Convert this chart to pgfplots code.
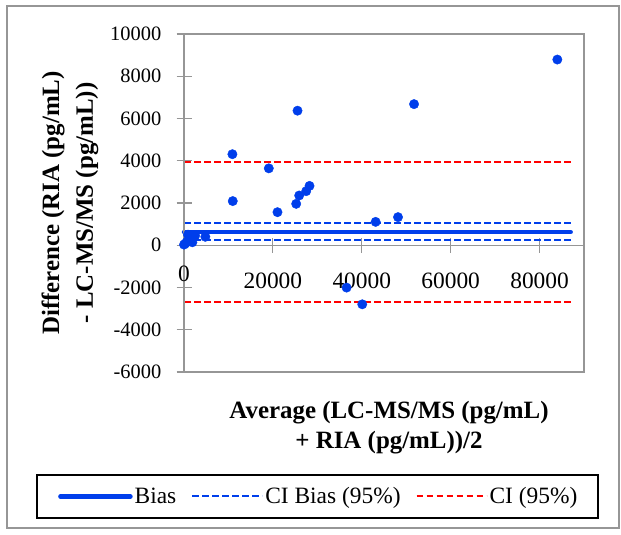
\documentclass[border=0pt]{standalone}
\usepackage{fontspec}
\setmainfont{Liberation Serif}
\usepackage{pgfplots}
\pgfplotsset{compat=1.18}
\definecolor{ptblue}{RGB}{0,62,235}
\definecolor{ptred}{RGB}{255,0,0}
\definecolor{framegray}{RGB}{150,150,150}

\begin{document}
\begin{tikzpicture}[x=1bp,y=1bp]
\path[use as bounding box] (0,0) rectangle (621,535);
\draw[framegray, line width=1.2bp] (7,7) rectangle (619,529);
\begin{axis}[
  at={(184bp,163bp)}, anchor=south west,
  scale only axis, width=400bp, height=338bp,
  xmin=0, xmax=90000, ymin=-6000, ymax=10000,
  axis x line*=middle, axis y line*=left,
  axis line style={framegray, line width=1.2bp},
  xtick={0,20000,40000,60000,80000},
  ytick={-6000,-4000,-2000,0,2000,4000,6000,8000,10000},
  scaled ticks=false,
  /pgf/number format/assume math mode=true,
  /pgf/number format/set thousands separator={},
  tick align=center, major tick length=15bp,
  tick style={framegray, line width=1.2bp},
  xticklabel style={font=\fontsize{23.5}{26}\selectfont, inner sep=0pt, anchor=north, yshift=-20bp},
  yticklabel style={font=\fontsize{20.5}{24}\selectfont, inner sep=0pt, anchor=east, xshift=-15bp},
  clip=false,
  legend columns=3,
  legend style={at={(axis description cs:-0.315,-0.3683)}, anchor=west,
    draw=none, fill=none, inner sep=0pt,
    font=\fontsize{23.5}{27}\selectfont,
    /tikz/every even column/.append style={column sep=13bp}},
  legend image code/.code={\draw[#1] (0bp,0bp) -- (70bp,0bp);},
]
\addplot[ptblue, line width=4.5bp, line cap=round] coordinates {(0,620) (87000,620)};
\addlegendentry{Bias}
\addplot[ptblue, line width=2bp, dash pattern=on 6.5bp off 3.5bp] coordinates {(0,1030) (87000,1030)};
\addlegendentry{CI Bias (95\%)}
\addplot[ptblue, line width=2bp, dash pattern=on 6.5bp off 3.5bp, forget plot] coordinates {(0,255) (87000,255)};
\addplot[ptred, line width=2bp, dash pattern=on 6.5bp off 3.5bp] coordinates {(0,3950) (87000,3950)};
\addlegendentry{CI (95\%)}
\addplot[ptred, line width=2bp, dash pattern=on 6.5bp off 3.5bp, forget plot] coordinates {(0,-2700) (87000,-2700)};
% data points
\addplot[only marks, mark=*, mark size=4.7bp, ptblue, forget plot] coordinates {
  (84000,8790) (51760,6680) (25540,6370) (10890,4310) (19080,3640)
  (28240,2810) (27490,2560) (25920,2355) (25240,1960) (10970,2090)
  (21030,1565) (43120,1107) (48150,1330) (36580,-2005) (40110,-2796)
  (4800,400) (0,30) (600,150) (1880,140) (900,500) (1500,350) (2500,450) (300,80)
};
\draw[framegray, line width=1.2bp] (rel axis cs:0,0) rectangle (rel axis cs:1,1);
% tick label at the origin, which pgfplots hides where the axes cross
\node[anchor=north, inner sep=0pt, yshift=-20bp, font=\fontsize{23.5}{26}\selectfont] at (axis cs:0,0) {0};
\end{axis}
\draw[black, line width=1.8bp] (37,17) rectangle (598,60);
\node[font=\fontsize{25}{30}\selectfont\bfseries, align=center] at (389,107)
  {Average (LC-MS/MS (pg/mL)\\+ RIA (pg/mL))/2};
\node[rotate=90, font=\fontsize{25}{34}\selectfont\bfseries, align=center] at (70,332)
  {Difference (RIA (pg/mL)\\- LC-MS/MS (pg/mL))};
\end{tikzpicture}
\end{document}
